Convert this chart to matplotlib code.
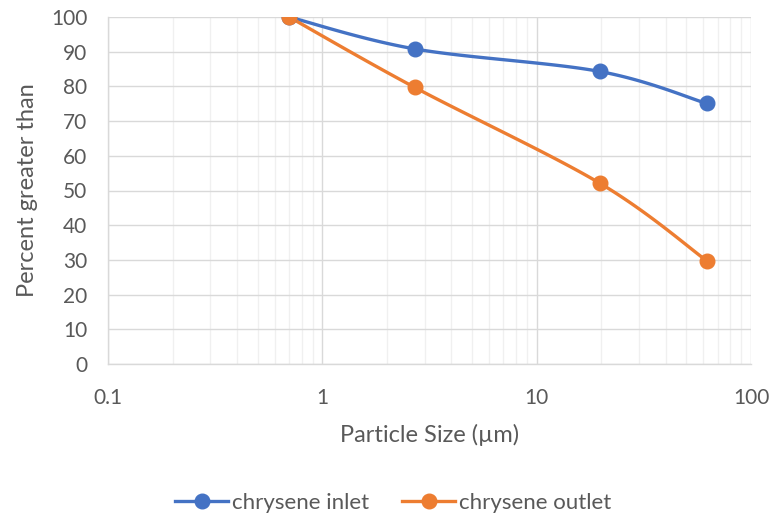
import numpy as np
import matplotlib
matplotlib.use("Agg")
import matplotlib.pyplot as plt
from matplotlib.ticker import LogLocator, FixedLocator, NullFormatter, FixedFormatter
from matplotlib.lines import Line2D

plt.rcParams['font.family'] = ['Lato', 'DejaVu Sans']

sizes = [0.7, 2.7, 19.7, 62.0]
inlet = [100.0, 90.8, 84.3, 75.1]
outlet = [100.0, 79.7, 52.1, 29.8]
series_names = ["chrysene inlet", "chrysene outlet"]
x_ticks = [0.1, 1, 10, 100]
x_tick_labels = ["0.1", "1", "10", "100"]
y_ticks = list(range(0, 101, 10))

BLUE = "#4472C4"
ORANGE = "#ED7D31"
TXT = "#595959"

W, H = 782, 521
fig = plt.figure(figsize=(W / 100, H / 100), dpi=100)
ax = fig.add_axes([108 / W, (H - 364) / H, (751 - 108) / W, (364 - 17) / H])
ax.set_xscale('log')
ax.set_xlim(0.1, 100)
ax.set_ylim(0, 100)

aw = (751 - 108)
ah = (364 - 17)


def smooth(xs, ys, n=40):
    # Excel-like smoothing: cubic Bezier with Catmull-Rom control points in screen space
    u = (np.log10(np.array(xs)) + 1) / 3 * aw
    v = np.array(ys) / 100 * ah
    P = np.column_stack([u, v])
    m = len(P)
    out = [P[0]]
    for i in range(m - 1):
        p0 = P[i - 1] if i > 0 else P[i]
        p1 = P[i]
        p2 = P[i + 1]
        p3 = P[i + 2] if i + 2 < m else P[i + 1]
        c1 = p1 + (p2 - p0) / 6
        c2 = p2 - (p3 - p1) / 6
        t = np.linspace(0, 1, n)[1:, None]
        b = (1 - t) ** 3 * p1 + 3 * (1 - t) ** 2 * t * c1 + 3 * (1 - t) * t ** 2 * c2 + t ** 3 * p2
        out.extend(b)
    out = np.array(out)
    return 10 ** (out[:, 0] / aw * 3 - 1), out[:, 1] / ah * 100


for vals, col in [(inlet, BLUE), (outlet, ORANGE)]:
    sx, sy = smooth(sizes, vals)
    ax.plot(sx, sy, color=col, lw=2.4, solid_capstyle='round', zorder=3)
    ax.plot(sizes, vals, 'o', color=col, ms=10.5, zorder=4)

ax.xaxis.set_major_locator(FixedLocator(x_ticks))
ax.xaxis.set_major_formatter(FixedFormatter(x_tick_labels))
ax.xaxis.set_minor_locator(LogLocator(base=10, subs=np.arange(2, 10)))
ax.xaxis.set_minor_formatter(NullFormatter())
ax.set_yticks(y_ticks)

ax.grid(True, which='major', axis='both', color='#D9D9D9', lw=1.0, zorder=0)
ax.grid(True, which='minor', axis='x', color='#F0F0F0', lw=1.0, zorder=0)
ax.set_axisbelow(True)
for s in ['top', 'right']:
    ax.spines[s].set_visible(False)
for s in ['left', 'bottom']:
    ax.spines[s].set_color('#D9D9D9')
    ax.spines[s].set_linewidth(1.0)
ax.tick_params(which='both', length=0, colors=TXT, labelsize=15)
ax.tick_params(axis='x', pad=17)
ax.tick_params(axis='y', pad=15)

ax.set_xlabel("Particle Size (µm)", fontsize=17, color=TXT, va='center')
ax.set_ylabel("Percent greater than", fontsize=17, color=TXT, va='center')
ax.xaxis.set_label_coords(0.5, (364 - 435) / ah)
ax.yaxis.set_label_coords((28 - 108) / aw, 0.5)

handles = [Line2D([0], [0], color=BLUE, lw=2.4, marker='o', ms=10.5),
           Line2D([0], [0], color=ORANGE, lw=2.4, marker='o', ms=10.5)]
fig.legend(handles, series_names, loc='center', bbox_to_anchor=(393 / W, (H - 503) / H),
           ncol=2, frameon=False, fontsize=16, labelcolor=TXT, handlelength=2.4,
           handletextpad=0.15, columnspacing=1.5, borderpad=0, borderaxespad=0)

fig.savefig("out.png", dpi=100)
